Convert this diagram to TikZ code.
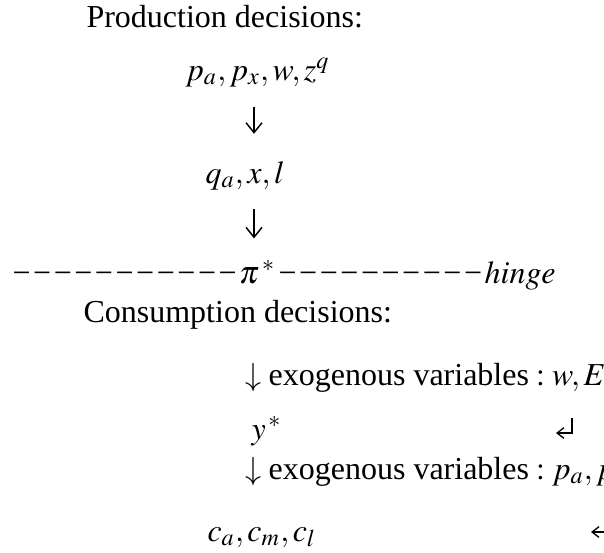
\documentclass[tikz,border=0pt,12pt]{standalone}
\usepackage{mathptmx}
\usepackage{fontspec}
\setmainfont{Liberation Serif}
\usetikzlibrary{arrows.meta,positioning}

\newcommand\dashrun[1]{\foreach\k in {1,...,#1}{\symbol{"2212}\hspace{0.08em}}}

\begin{document}
\begin{tikzpicture}[x=0.375pt, y=-0.375pt,
  txt/.style={anchor=base west, inner sep=0pt},
  arrow/.style={-{Straight Barb[length=1.3mm, width=2.1mm]}, line width=0.55pt},
  hook/.style={-{Straight Barb[length=0.9mm, width=1.4mm]}, line width=0.5pt}
]
\useasboundingbox (0,0) rectangle (604,552);
% production side
\node[txt] (prod) at (86,27) {Production decisions:};
\node[txt] (prices) at (185,80) {$p_a, p_x, w, z^q$};
\node[txt] (inputs) at (205,183) {$q_a, x, l$};
\node[txt] (hinge) at (12,283) {\dashrun{11}$\pi^{\,*}$\hspace{0.1em}\dashrun{10}$hinge$};
\coordinate (col) at (254,0);
\draw[arrow, shorten <=7.5pt, shorten >=10pt] (prices.south -| col) -- (inputs.north -| col);
\draw[arrow, shorten <=7pt, shorten >=8pt] (inputs.south -| col) -- (hinge.north -| col);
% consumption side
\node[txt] (cons) at (83,322) {Consumption decisions:};
\node[txt] (exoA) at (245,385) {$\downarrow\mbox{exogenous variables} : w, E$};
\node[txt] (income) at (251,439) {$y^{\,*}$};
\node[txt] (exoB) at (245,479) {$\downarrow\mbox{exogenous variables} : p_a, p$};
\node[txt] (goods) at (207,541) {$c_a, c_m, c_l$};
\coordinate (retA) at (572,418);
\coordinate (retB) at (556,433);
\draw[hook] (retA) |- (retB);
\coordinate (backA) at (612,532);
\coordinate (backB) at (591,532);
\draw[hook] (backA) -- (backB);
\end{tikzpicture}
\end{document}
